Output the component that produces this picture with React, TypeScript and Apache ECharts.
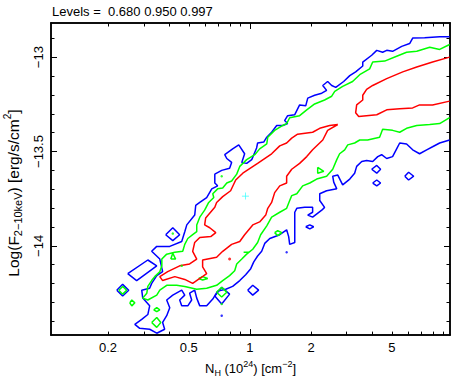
import React, { useEffect, useRef } from "react";
import * as echarts from "echarts";

// Each point: [log10(N_H / 1e24 cm^-2), log10 F(2-10 keV) / erg s^-1 cm^-2]
type Pt = [number, number];

const levels = [0.68, 0.95, 0.997];
const nhRange = [0.1047, 9.68];
const logFRange = [-14.473, -12.819];
const xLabelValues = [0.2, 0.5, 1, 2, 5];
const xMajorTicks = [1];
const xMinorTicks = [0.2, 0.3, 0.4, 0.5, 0.6, 0.7, 0.8, 0.9, 2, 3, 4, 5, 6, 7, 8, 9];
const yMajorTicks = [-14, -13.5, -13];
const yMinorTicks = [-14.4, -14.3, -14.2, -14.1, -13.9, -13.8, -13.7, -13.6, -13.4, -13.3, -13.2, -13.1, -12.9];
const bestFit: Pt[] = [[-0.022, -13.736]];

// 0.997 contour
const blueOuter: Pt[] = [
  [0.984, -12.892], [0.935, -12.892], [0.861, -12.897], [0.802, -12.899], [0.787, -12.928], [0.748, -12.943],
  [0.703, -12.969], [0.674, -12.964], [0.654, -12.974], [0.625, -12.964], [0.6, -12.99], [0.556, -13.026],
  [0.556, -13.047], [0.521, -13.078], [0.492, -13.098], [0.462, -13.129], [0.423, -13.16], [0.403, -13.15],
  [0.383, -13.129], [0.359, -13.15], [0.378, -13.176], [0.354, -13.191], [0.319, -13.202], [0.285, -13.217],
  [0.275, -13.258], [0.245, -13.253], [0.221, -13.305], [0.186, -13.31], [0.171, -13.336], [0.186, -13.352],
  [0.162, -13.362], [0.132, -13.362], [0.107, -13.398], [0.083, -13.424], [0.068, -13.45], [0.038, -13.455],
  [0.033, -13.481], [0.009, -13.543], [-0.016, -13.563], [-0.04, -13.558], [-0.026, -13.512], [-0.055, -13.465],
  [-0.085, -13.486], [-0.124, -13.517], [-0.114, -13.537], [-0.09, -13.558], [-0.1, -13.589], [-0.139, -13.6],
  [-0.173, -13.62], [-0.173, -13.667], [-0.159, -13.682], [-0.188, -13.698], [-0.213, -13.744], [-0.247, -13.77],
  [-0.267, -13.786], [-0.272, -13.837], [-0.311, -13.889], [-0.321, -13.925], [-0.336, -13.977], [-0.395, -14.003],
  [-0.459, -14.003], [-0.484, -14.029], [-0.444, -14.07], [-0.43, -14.137], [-0.459, -14.158], [-0.484, -14.199],
  [-0.494, -14.225], [-0.533, -14.235], [-0.528, -14.277], [-0.494, -14.318], [-0.503, -14.364], [-0.533, -14.39],
  [-0.567, -14.416], [-0.543, -14.437], [-0.494, -14.442], [-0.459, -14.463], [-0.42, -14.442], [-0.43, -14.406],
  [-0.41, -14.37], [-0.395, -14.328], [-0.41, -14.287], [-0.38, -14.261], [-0.336, -14.235], [-0.321, -14.261],
  [-0.346, -14.287], [-0.336, -14.318], [-0.306, -14.318], [-0.287, -14.287], [-0.297, -14.251], [-0.272, -14.235],
  [-0.262, -14.277], [-0.247, -14.318], [-0.213, -14.318], [-0.183, -14.282], [-0.159, -14.24], [-0.119, -14.23],
  [-0.085, -14.215], [-0.05, -14.184], [-0.021, -14.153], [0.004, -14.121], [0.019, -14.085], [0.038, -14.054],
  [0.058, -14.029], [0.073, -13.987], [0.098, -13.961], [0.147, -13.941], [0.181, -13.915], [0.191, -13.951],
  [0.196, -13.992], [0.221, -13.982], [0.221, -13.941], [0.221, -13.879], [0.221, -13.822], [0.231, -13.801],
  [0.27, -13.796], [0.309, -13.796], [0.309, -13.822], [0.285, -13.837], [0.309, -13.848], [0.354, -13.811],
  [0.368, -13.796], [0.344, -13.76], [0.344, -13.724], [0.378, -13.708], [0.428, -13.698], [0.413, -13.662],
  [0.408, -13.631], [0.433, -13.625], [0.457, -13.677], [0.492, -13.646], [0.516, -13.615], [0.526, -13.579],
  [0.551, -13.553], [0.575, -13.548], [0.605, -13.553], [0.63, -13.527], [0.649, -13.517], [0.674, -13.537],
  [0.703, -13.527], [0.723, -13.486], [0.738, -13.455], [0.772, -13.46], [0.802, -13.491], [0.836, -13.512],
  [0.871, -13.491], [0.9, -13.475], [0.935, -13.455], [0.984, -13.439],
];
const blueIslands: Pt[][] = [
  [[-0.415, -13.941], [-0.38, -13.904], [-0.346, -13.941], [-0.38, -13.972]],
  [[-0.602, -14.147], [-0.503, -14.075], [-0.459, -14.106], [-0.558, -14.184]],
  [[-0.656, -14.235], [-0.627, -14.204], [-0.597, -14.235], [-0.627, -14.266]],
  [[-0.173, -14.266], [-0.139, -14.22], [-0.1, -14.256], [-0.139, -14.308]],
  [[-0.011, -14.235], [0.014, -14.209], [0.043, -14.235], [0.014, -14.261]],
  [[0.275, -13.899], [0.295, -13.889], [0.314, -13.899], [0.295, -13.91]],
  [[0.6, -13.594], [0.625, -13.574], [0.644, -13.594], [0.625, -13.615]],
  [[0.605, -13.667], [0.625, -13.651], [0.644, -13.667], [0.625, -13.682]],
  [[0.763, -13.631], [0.782, -13.61], [0.807, -13.631], [0.782, -13.651]],
];
const blueDots: Pt[] = [[-0.139, -14.37], [0.181, -14.034]];

// 0.950 contour
const greenOuter: Pt[] = [
  [0.984, -12.933], [0.935, -12.959], [0.886, -12.948], [0.822, -12.969], [0.772, -12.974], [0.723, -12.995],
  [0.664, -13.021], [0.605, -13.026], [0.59, -13.062], [0.541, -13.093], [0.506, -13.129], [0.457, -13.155],
  [0.418, -13.181], [0.403, -13.207], [0.368, -13.227], [0.319, -13.248], [0.28, -13.279], [0.245, -13.31],
  [0.196, -13.321], [0.181, -13.352], [0.162, -13.362], [0.122, -13.388], [0.088, -13.424], [0.083, -13.46],
  [0.048, -13.486], [0.024, -13.517], [-0.016, -13.543], [-0.05, -13.579], [-0.065, -13.62], [-0.09, -13.656],
  [-0.114, -13.667], [-0.134, -13.693], [-0.159, -13.698], [-0.183, -13.724], [-0.178, -13.744], [-0.203, -13.77],
  [-0.223, -13.811], [-0.247, -13.848], [-0.262, -13.889], [-0.262, -13.925], [-0.282, -13.941], [-0.306, -13.961],
  [-0.321, -13.992], [-0.331, -14.029], [-0.37, -14.034], [-0.41, -14.044], [-0.434, -14.07], [-0.434, -14.106],
  [-0.444, -14.137], [-0.469, -14.163], [-0.484, -14.184], [-0.503, -14.215], [-0.508, -14.251], [-0.528, -14.277],
  [-0.503, -14.287], [-0.459, -14.261], [-0.444, -14.235], [-0.41, -14.209], [-0.361, -14.209], [-0.321, -14.215],
  [-0.262, -14.23], [-0.213, -14.225], [-0.164, -14.209], [-0.134, -14.184], [-0.1, -14.158], [-0.075, -14.132],
  [-0.065, -14.096], [-0.04, -14.07], [-0.016, -14.044], [0.014, -14.018], [0.038, -13.982], [0.053, -13.941],
  [0.083, -13.894], [0.107, -13.848], [0.147, -13.822], [0.181, -13.801], [0.196, -13.76], [0.206, -13.734],
  [0.231, -13.724], [0.26, -13.682], [0.295, -13.667], [0.329, -13.646], [0.378, -13.631], [0.408, -13.594],
  [0.428, -13.543], [0.442, -13.512], [0.467, -13.491], [0.482, -13.465], [0.516, -13.455], [0.541, -13.439],
  [0.58, -13.439], [0.639, -13.424], [0.654, -13.382], [0.703, -13.388], [0.738, -13.398], [0.772, -13.377],
  [0.822, -13.362], [0.886, -13.357], [0.935, -13.352], [0.984, -13.321],
];
const greenIslands: Pt[][] = [
  [[0.334, -13.584], [0.364, -13.605], [0.334, -13.615]],
  [[0.122, -13.93], [0.137, -13.92], [0.157, -13.93], [0.137, -13.946]],
  [[-0.39, -14.07], [-0.38, -14.039], [-0.366, -14.07]],
  [[-0.252, -14.173], [-0.233, -14.163], [-0.208, -14.173], [-0.233, -14.181]],
  [[-0.646, -14.235], [-0.627, -14.215], [-0.607, -14.235], [-0.627, -14.256]],
  [[-0.592, -14.302], [-0.582, -14.287], [-0.567, -14.302], [-0.582, -14.318]],
  [[-0.474, -14.339], [-0.459, -14.328], [-0.444, -14.339], [-0.459, -14.349]],
  [[-0.484, -14.406], [-0.459, -14.38], [-0.439, -14.406], [-0.459, -14.432]],
  [[-0.164, -14.246], [-0.139, -14.22], [-0.114, -14.246], [-0.139, -14.271]],
];
const greenDash: Pt[] = [[-0.031, -14.034], [-0.006, -14.034]];
const greenDots: Pt[] = [[-0.139, -13.631], [-0.38, -13.935], [-0.336, -14.106], [-0.139, -14.308]];

// 0.680 contour
const redUpper: Pt[] = [
  [0.984, -13.0], [0.9, -13.026], [0.822, -13.052], [0.753, -13.078], [0.674, -13.114], [0.605, -13.15],
  [0.575, -13.171], [0.556, -13.202], [0.556, -13.227], [0.526, -13.253], [0.521, -13.295], [0.536, -13.315],
  [0.625, -13.305], [0.674, -13.279], [0.738, -13.274], [0.802, -13.269], [0.836, -13.253], [0.9, -13.253],
  [0.984, -13.233],
];
const redLower: Pt[] = [
  [0.433, -13.357], [0.393, -13.362], [0.344, -13.377], [0.309, -13.398], [0.235, -13.408], [0.206, -13.429],
  [0.181, -13.455], [0.147, -13.47], [0.107, -13.512], [0.038, -13.563], [-0.035, -13.615], [-0.07, -13.651],
  [-0.095, -13.708], [-0.134, -13.739], [-0.164, -13.77], [-0.173, -13.796], [-0.218, -13.853], [-0.223, -13.889],
  [-0.198, -13.904], [-0.168, -13.93], [-0.193, -13.951], [-0.247, -13.956], [-0.272, -13.982], [-0.282, -14.029],
  [-0.262, -14.07], [-0.297, -14.096], [-0.346, -14.106], [-0.405, -14.137], [-0.444, -14.163], [-0.43, -14.184],
  [-0.37, -14.163], [-0.321, -14.178], [-0.282, -14.199], [-0.247, -14.173], [-0.213, -14.147], [-0.233, -14.111],
  [-0.233, -14.075], [-0.164, -14.06], [-0.134, -14.029], [-0.09, -13.992], [-0.05, -13.977], [-0.026, -13.941],
  [0.014, -13.889], [0.048, -13.873], [0.078, -13.837], [0.088, -13.801], [0.107, -13.77], [0.122, -13.718],
  [0.147, -13.682], [0.181, -13.667], [0.181, -13.631], [0.206, -13.594], [0.245, -13.563], [0.28, -13.527],
  [0.309, -13.491], [0.359, -13.439], [0.383, -13.388], [0.433, -13.357],
];
const redDots: Pt[] = [[-0.1, -14.07]];

const FONT = "'Liberation Sans', Arial, Helvetica, sans-serif";
const BLUE = "#0000ff";
const GREEN = "#00ff00";
const RED = "#ff0000";

const lg = (v: number) => Math.log10(v);
const close = (p: Pt[]): Pt[] => [...p, p[0]];
const minus = (v: number) => (v < 0 ? "\u2212" + Math.abs(v) : String(v));

function lineSeries(data: Pt[], color: string) {
  return {
    type: "line",
    data,
    symbol: "none",
    showSymbol: false,
    silent: true,
    lineStyle: { color, width: 1.5 },
    z: 3,
  };
}
function dotSeries(data: Pt[], color: string, size: number) {
  return {
    type: "scatter",
    data,
    symbol: "circle",
    symbolSize: size,
    silent: true,
    itemStyle: { color },
    z: 4,
  };
}

function xAxis(position: string, ticks: number[], len: number, withLabels: boolean) {
  return {
    type: "value",
    position,
    min: lg(nhRange[0]),
    max: lg(nhRange[1]),
    axisLine: { show: true, onZero: false, lineStyle: { color: "#000", width: 1.5 } },
    axisTick: { show: true, inside: true, length: len, customValues: ticks.map(lg), lineStyle: { color: "#000", width: 1 } },
    axisLabel: withLabels
      ? {
          show: true,
          customValues: xLabelValues.map(lg),
          formatter: (v: number) => String(Number(Math.pow(10, v).toPrecision(2))),
          margin: 6,
          color: "#000",
          fontSize: 13,
          fontFamily: FONT,
        }
      : { show: false },
    splitLine: { show: false },
    ...(withLabels
      ? {
          name: "{n|N}{s|H}{n| (10}{p|24}{n|) [cm}{p|\u22122}{n|]}",
          nameLocation: "middle",
          nameGap: 19,
          nameTextStyle: {
            color: "#000",
            rich: {
              n: { fontSize: 13, fontFamily: FONT, color: "#000", lineHeight: 18, verticalAlign: "middle" },
              s: { fontSize: 9, fontFamily: FONT, color: "#000", lineHeight: 9, verticalAlign: "bottom" },
              p: { fontSize: 9, fontFamily: FONT, color: "#000", lineHeight: 9, verticalAlign: "top" },
            },
          },
        }
      : {}),
  };
}

function yAxis(position: string, ticks: number[], len: number, withLabels: boolean) {
  return {
    type: "value",
    position,
    min: logFRange[0],
    max: logFRange[1],
    axisLine: { show: true, onZero: false, lineStyle: { color: "#000", width: 1.5 } },
    axisTick: { show: true, inside: true, length: len, customValues: ticks, lineStyle: { color: "#000", width: 1 } },
    axisLabel: withLabels
      ? {
          show: true,
          customValues: yMajorTicks,
          rotate: 90,
          formatter: (v: number) => minus(v),
          margin: 6,
          color: "#000",
          fontSize: 13,
          fontFamily: FONT,
        }
      : { show: false },
    splitLine: { show: false },
  };
}

export default function App() {
  const ref = useRef<HTMLDivElement>(null);
  useEffect(() => {
    if (!ref.current) return;
    const chart = echarts.init(ref.current, undefined, { renderer: "svg" });
    const series: any[] = [];
    series.push(lineSeries(blueOuter, BLUE));
    blueIslands.forEach((p) => series.push(lineSeries(close(p), BLUE)));
    series.push(dotSeries(blueDots, BLUE, 2.5));
    series.push(lineSeries(greenOuter, GREEN));
    greenIslands.forEach((p) => series.push(lineSeries(close(p), GREEN)));
    series.push(lineSeries(greenDash, GREEN));
    series.push(dotSeries(greenDots, GREEN, 2.5));
    series.push(lineSeries(redUpper, RED));
    series.push(lineSeries(redLower, RED));
    series.push(dotSeries(redDots, RED, 3));
    series.push({
      type: "scatter",
      data: bestFit,
      symbol: "path://M4.5,0H5.5V4.5H10V5.5H5.5V10H4.5V5.5H0V4.5H4.5Z",
      symbolSize: 7,
      silent: true,
      itemStyle: { color: "#00ffff" },
      z: 5,
    });
    chart.setOption({
      animation: false,
      backgroundColor: "#fff",
      grid: { left: 51, right: 2, top: 23, bottom: 39, containLabel: false },
      xAxis: [
        xAxis("bottom", xMajorTicks, 6, true),
        xAxis("bottom", xMinorTicks, 3.5, false),
        xAxis("top", xMajorTicks, 6, false),
        xAxis("top", xMinorTicks, 3.5, false),
      ],
      yAxis: [
        yAxis("left", yMajorTicks, 6, true),
        yAxis("left", yMinorTicks, 3.5, false),
        yAxis("right", yMajorTicks, 6, false),
        yAxis("right", yMinorTicks, 3.5, false),
      ],
      graphic: [
        {
          type: "text",
          left: 52,
          top: 5,
          style: {
            text: "Levels =  " + levels.map((l) => l.toFixed(3)).join(" "),
            font: `13px ${FONT}`,
            fill: "#000",
          },
        },
        {
          type: "text",
          x: 13,
          y: 193,
          rotation: Math.PI / 2,
          style: {
            text: "{n|Log(F}{s|2\u221210keV}{n|) [erg/s/cm}{p|2}{n|]}",
            align: "center",
            verticalAlign: "middle",
            rich: {
              n: { fontSize: 15.5, fontFamily: FONT, fill: "#000", lineHeight: 21, verticalAlign: "middle" },
              s: { fontSize: 11, fontFamily: FONT, fill: "#000", lineHeight: 11, verticalAlign: "bottom" },
              p: { fontSize: 10, fontFamily: FONT, fill: "#000", lineHeight: 11, verticalAlign: "top" },
            },
          },
        },
      ],
      series,
    });
    return () => chart.dispose();
  }, []);
  return (
    <div
      ref={ref}
      style={{ position: "absolute", left: 0, top: 0, width: 452, height: 382, background: "#fff" }}
    />
  );
}
